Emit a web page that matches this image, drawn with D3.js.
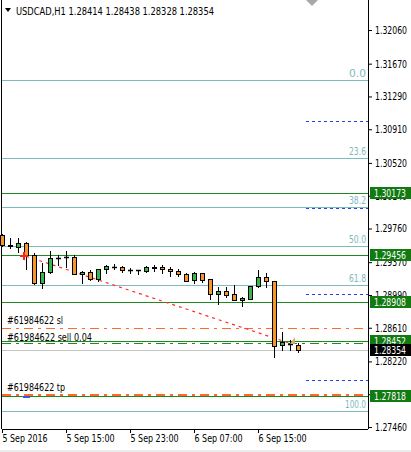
<!DOCTYPE html>
<html>
<head>
<meta charset="utf-8">
<script src="https://cdn.jsdelivr.net/npm/d3@7"></script>
<style>
body{margin:0;background:#fff;}
svg text{font-family:"DejaVu Sans Condensed","DejaVu Sans",sans-serif;font-size:10.5px;}
</style>
</head>
<body>
<div id="chart"></div>
<script>
// chart data
var symbol = "USDCAD,H1";
var lastQuote = [1.28414, 1.28438, 1.28328, 1.28354];
var startTime = new Date(2016, 8, 5, 7);   // first visible bar, 5 Sep 07:00, one bar per hour

var opens  = [1.29685,1.29569,1.29546,1.29592,1.29453,1.29128,1.29256,1.29418,1.29430,1.29430,
              1.29233,1.29256,1.29175,1.29291,1.29314,1.29314,1.29279,1.29279,1.29267,1.29302,
              1.29314,1.29291,1.29267,1.29233,1.29163,1.29244,1.29175,1.29001,1.29036,1.29001,
              1.28931,1.28943,1.29094,1.29198,1.29152,1.28410,1.28422,1.28414];
var highs  = [1.29696,1.29650,1.29650,1.29603,1.29476,1.29360,1.29499,1.29453,1.29499,1.29453,
              1.29262,1.29279,1.29295,1.29337,1.29349,1.29325,1.29302,1.29282,1.29325,1.29337,
              1.29337,1.29314,1.29291,1.29244,1.29256,1.29250,1.29180,1.29082,1.29082,1.29105,
              1.28966,1.29094,1.29279,1.29244,1.29152,1.28561,1.28468,1.28438];
var lows   = [1.29557,1.29534,1.29488,1.29291,1.29120,1.29070,1.29250,1.29337,1.29314,1.29230,
              1.29128,1.29163,1.29152,1.29244,1.29291,1.29256,1.29244,1.29233,1.29256,1.29267,
              1.29244,1.29210,1.29210,1.29152,1.29128,1.29140,1.28943,1.28885,1.28966,1.28926,
              1.28862,1.28943,1.29082,1.29082,1.28271,1.28352,1.28352,1.28328];
var closes = [1.29569,1.29563,1.29592,1.29453,1.29128,1.29256,1.29418,1.29415,1.29427,1.29233,
              1.29256,1.29175,1.29291,1.29325,1.29314,1.29279,1.29279,1.29276,1.29314,1.29314,
              1.29291,1.29267,1.29233,1.29152,1.29244,1.29163,1.29001,1.29036,1.28995,1.28926,
              1.28955,1.29094,1.29198,1.29152,1.28398,1.28445,1.28420,1.28354];

var yTicks = [1.32060,1.31670,1.31290,1.30910,1.30520,1.30140,1.29760,1.29370,1.28990,1.28610,1.28220,1.27840,1.27460];
var xTickHours = [0, 8, 16, 24, 32];
var xTickLabels = ["5 Sep 2016","5 Sep 15:00","5 Sep 23:00","6 Sep 07:00","6 Sep 15:00"];

var fibLevels = [0, 23.6, 38.2, 50, 61.8, 100];
var fibHigh = 1.31481, fibLow = 1.27640;
var priceLines = [1.30173, 1.29456, 1.28908, 1.28452, 1.27818];
var roundLevels = [1.31, 1.30, 1.29, 1.28];
var orderId = "#61984622";
var slPrice = 1.28604, openPrice = 1.28430, tpPrice = 1.27830;
var tradeStart = {bar:3, price:1.29440}, tradeEnd = {bar:36, price:1.28430};

var width = 411, height = 452;
var left = 2, right = 368, bottom = 429;

var hour = 3600000;
function barTime(i){ return new Date(startTime.getTime() + i*hour); }

// the terminal font is narrower than anything installed:
// texts are fitted to the widths they have in the terminal
function fit(sel, w){ sel.attr("data-w", w); return sel; }

var x = d3.scaleTime()
    .domain([startTime, barTime(37)])
    .range([2, 298]);
var y = d3.scaleLinear()
    .domain([1.27460, 1.32060])
    .range([427, 30]);

var svg = d3.select("#chart").append("svg")
    .attr("width", width)
    .attr("height", height)
    .style("display","block");

svg.append("rect").attr("width",width).attr("height",height).style("fill","white");

// axes first, label boxes go over them later
var yAxis = svg.append("g")
    .attr("transform","translate("+right+",0)")
    .call(d3.axisRight(y).tickValues(yTicks).tickFormat(d3.format(".5f")).tickSize(4).tickPadding(3));
yAxis.select(".domain").attr("d","M0.5,0V"+bottom);
yAxis.attr("font-size",null).attr("font-family",null);
fit(yAxis.selectAll("text").style("fill","#000"), 32);

var xAxis = svg.append("g")
    .attr("transform","translate(0,"+bottom+")")
    .call(d3.axisBottom(x)
        .tickValues(xTickHours.map(barTime))
        .tickFormat(function(d,i){ return xTickLabels[i]; })
        .tickSize(4).tickPadding(2));
xAxis.select(".domain").attr("d","M"+left+",0.5H"+right);
xAxis.attr("font-size",null).attr("font-family",null);
xAxis.selectAll("text").attr("text-anchor","start").attr("dx","0").style("fill","#000")
    .attr("data-w", function(d,i){ return i ? 48 : 45; });

// left frame
svg.append("line")
    .attr("x1",1.5).attr("x2",1.5).attr("y1",0).attr("y2",bottom)
    .style("stroke","black");

var plot = svg.append("g");

function hline(price, color, w, dash){
    var py = Math.round(y(price)) + (w % 2 ? 0.5 : 0);
    return plot.append("line")
        .attr("x1", left).attr("x2", right)
        .attr("y1", py).attr("y2", py)
        .style("stroke", color)
        .style("stroke-width", w)
        .style("stroke-dasharray", dash || null);
}

// fibonacci
fibLevels.forEach(function(lv){
    var p = fibHigh - (fibHigh - fibLow)*lv/100;
    hline(p, "#7fbcc2", 1);
    fit(plot.append("text")
        .attr("x", 366).attr("y", Math.round(y(p)) - 3)
        .attr("text-anchor","end")
        .style("fill","#7fb8c0")
        .text(lv.toFixed(1)), lv >= 100 ? 21 : 17);
});

// round number levels
roundLevels.forEach(function(p){
    var py = Math.round(y(p)) + 0.5;
    plot.append("line")
        .attr("x1", x(barTime(38))).attr("x2", right)
        .attr("y1", py).attr("y2", py)
        .style("stroke","#2a3fe0")
        .style("stroke-dasharray","3,3");
});

// current price
hline(lastQuote[3], "#c4c4c4", 1);

// user lines
priceLines.forEach(function(p){ hline(p, "#1c8a1c", 1); });

// order lines
hline(slPrice, "#ff6a2a", 1, "9,5,3,5");
hline(openPrice, "#1c8a1c", 1, "9,5,3,5");
hline(tpPrice, "#ff6a2a", 2, "9,5,3,5");

fit(plot.append("text").attr("x",7).attr("y",Math.round(y(slPrice))-4).text(orderId+" sl"), 56);
fit(plot.append("text").attr("x",7).attr("y",Math.round(y(openPrice))-2).text(orderId+" sell 0.04"), 85);
fit(plot.append("text").attr("x",7).attr("y",Math.round(y(tpPrice))-4).text(orderId+" tp"), 58);

// trade line
plot.append("line")
    .attr("x1", x(barTime(tradeStart.bar))).attr("y1", y(tradeStart.price))
    .attr("x2", x(barTime(tradeEnd.bar))).attr("y2", y(tradeEnd.price))
    .style("stroke","#ff2a2a")
    .style("stroke-width",1.2)
    .style("stroke-dasharray","3,4");

// candles
var bars = plot.append("g");
opens.forEach(function(o,i){
    var cx = Math.round(x(barTime(i))) + 0.5;
    var c = closes[i];
    var g = bars.append("g");
    g.append("line")
        .attr("x1",cx).attr("x2",cx)
        .attr("y1",Math.round(y(highs[i]))).attr("y2",Math.round(y(lows[i]))+1)
        .style("stroke","black");
    var top = Math.round(y(Math.max(o,c))), bot = Math.round(y(Math.min(o,c)));
    if (bot - top < 1) {
        g.append("line")
            .attr("x1",cx-2.5).attr("x2",cx+2.5)
            .attr("y1",top+0.5).attr("y2",top+0.5)
            .style("stroke","black").style("stroke-width",1.5);
    } else {
        g.append("rect")
            .attr("x",cx-2).attr("y",top+0.5)
            .attr("width",4).attr("height",bot-top)
            .style("fill", c < o ? "#f7962b" : "#34b84a")
            .style("stroke","black");
    }
});

// trade markers
var sx = x(barTime(tradeStart.bar)) - 2, sy = Math.round(y(tradeStart.price));
plot.append("path")
    .attr("d","M"+(sx-4)+","+sy+"H"+(sx+4)+"M"+sx+","+(sy-4)+"V"+(sy+4))
    .style("stroke","#ff2020").style("stroke-width",2);
var bx = x(barTime(tradeStart.bar)), by = Math.round(y(priceLines[4])) + 1;
plot.append("line")
    .attr("x1",bx-3).attr("x2",bx+4).attr("y1",by).attr("y2",by)
    .style("stroke","#2a5ae0").style("stroke-width",2);
var ex = x(barTime(tradeEnd.bar)), ey = Math.round(y(tradeEnd.price));
plot.append("path")
    .attr("d","M"+(ex+5)+","+(ey-6)+"L"+(ex+5)+","+(ey+1)+"L"+(ex)+","+(ey+1)+"Z")
    .style("fill","#d8a868");

// price labels over the axis
function priceBox(p, bg){
    var py = Math.round(y(p));
    svg.append("rect")
        .attr("x",370).attr("y",py-6).attr("width",41).attr("height",12)
        .style("fill",bg);
    fit(svg.append("text")
        .attr("x",374).attr("y",py+4)
        .style("fill","white")
        .text(d3.format(".5f")(p)), 32);
}
priceLines.forEach(function(p){ priceBox(p, "#117a11"); });
priceBox(lastQuote[3], "#000");

// header
svg.append("path").attr("d","M5,8H11L8,12Z").style("fill","black");
fit(svg.append("text").attr("x",16).attr("y",15)
    .text(symbol + "  " + lastQuote.map(d3.format(".5f")).join(" ")), 198);

// chart-shift marker and bottom strip
svg.append("path").attr("d","M306,0H318L312,6Z").style("fill","#a8a8a8");
svg.append("rect").attr("x",0).attr("y",450).attr("width",width).attr("height",2).style("fill","#ececec");

svg.selectAll("text[data-w]").each(function(){
    d3.select(this).attr("textLength", this.getAttribute("data-w")).attr("lengthAdjust","spacingAndGlyphs");
});
</script>
</body>
</html>
